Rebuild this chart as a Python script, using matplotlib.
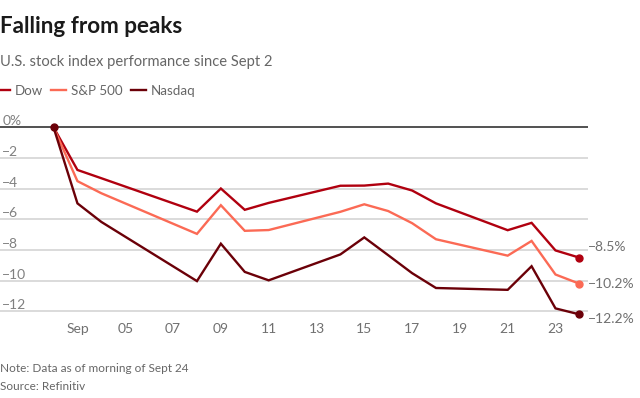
import matplotlib
matplotlib.use("Agg")
import matplotlib.pyplot as plt
import matplotlib.dates as mdates
import matplotlib.transforms as mtransforms
import pandas as pd

plt.rcParams['font.family'] = ['Lato', 'DejaVu Sans']

dates = ["2020-09-02", "2020-09-03", "2020-09-04", "2020-09-08", "2020-09-09",
         "2020-09-10", "2020-09-11", "2020-09-14", "2020-09-15", "2020-09-16",
         "2020-09-17", "2020-09-18", "2020-09-21", "2020-09-22", "2020-09-23",
         "2020-09-24"]
dow = [0, -2.78, -3.32, -5.5, -3.99, -5.38, -4.93, -3.81, -3.8, -3.67,
       -4.12, -4.96, -6.71, -6.23, -8.03, -8.5]
sp500 = [0, -3.51, -4.3, -6.95, -5.08, -6.75, -6.7, -5.51, -5.02, -5.46,
         -6.25, -7.3, -8.37, -7.41, -9.6, -10.2]
nasdaq = [0, -4.96, -6.17, -10.03, -7.59, -9.43, -9.98, -8.29, -7.18, -8.34,
          -9.51, -10.48, -10.6, -9.06, -11.81, -12.2]
series_names = ["Dow", "S&P 500", "Nasdaq"]
end_labels = ["\u22128.5%", "\u221210.2%", "\u221212.2%"]
ytick_vals = [0, -2, -4, -6, -8, -10, -12]
ytick_labels = ["0%", "\u22122", "\u22124", "\u22126", "\u22128", "\u221210", "\u221212"]
xtick_dates = ["2020-09-03", "2020-09-05", "2020-09-07", "2020-09-09", "2020-09-11",
               "2020-09-13", "2020-09-15", "2020-09-17", "2020-09-19", "2020-09-21",
               "2020-09-23"]
xtick_labels = ["Sep", "05", "07", "09", "11", "13", "15", "17", "19", "21", "23"]

colors = ["#b0000f", "#fb6a55", "#6b0008"]
W, H = 640, 398
fig = plt.figure(figsize=(W / 100, H / 100), dpi=100)
ax = fig.add_axes([0, (H - 320.5) / H, 588 / W, 208.5 / H])

x = pd.to_datetime(dates)
start = mdates.date2num(x[0])
ax.set_xlim(start - 2.24, start + 22.36)
ax.set_ylim(-12.6, 1.0)

for v in ytick_vals:
    if v == 0:
        ax.axhline(v, color="#333333", lw=1.2, zorder=2)
    else:
        ax.axhline(v, color="#d4d4d4", lw=1.2, zorder=1)

trans = mtransforms.blended_transform_factory(ax.transAxes, ax.transData)
for v, lab in zip(ytick_vals, ytick_labels):
    ax.text(0.004, v, lab, transform=trans, ha="left", va="bottom",
            fontsize=10, color="#808080")

all_series = [dow, sp500, nasdaq]
for vals, c, name in zip(all_series, colors, series_names):
    ax.plot(x, vals, color=c, lw=1.7, label=name, zorder=3, solid_joinstyle="miter")
    ax.plot(x[-1:], vals[-1:], "o", color=c, ms=5, zorder=4)
ax.plot(x[:1], nasdaq[:1], "o", color=colors[2], ms=5, zorder=5)

offsets = [8, 0, -3.5]
for vals, lab, off in zip(all_series, end_labels, offsets):
    ax.annotate(lab, xy=(1.0, vals[-1]), xycoords=trans,
                xytext=(0, off), textcoords="offset points",
                ha="left", va="center", fontsize=10, color="#707070",
                annotation_clip=False)

ax.set_xticks(pd.to_datetime(xtick_dates))
ax.set_xticklabels(xtick_labels)
ax.tick_params(axis="x", length=0, pad=2, labelsize=10, labelcolor="#707070")
ax.set_yticks([])
for s in ax.spines.values():
    s.set_visible(False)
ax.patch.set_alpha(0)

fig.text(0.0, 1 - 33 / H, "Falling from peaks", fontsize=16.2, fontweight="bold",
         color="#1a1a1a", ha="left", va="baseline")
fig.text(0.0, 1 - 66 / H, "U.S. stock index performance since Sept 2", fontsize=10.6,
         color="#666666", ha="left", va="baseline")

handles, labels = ax.get_legend_handles_labels()
fig.legend(handles, labels, loc="center left", bbox_to_anchor=(-0.008, 1 - 91 / H),
           ncol=3, frameon=False, fontsize=9.6, handlelength=1.15,
           handletextpad=0.35, columnspacing=0.6, borderaxespad=0, borderpad=0,
           labelcolor="#666666")

fig.text(0.0, 1 - 372.5 / H, "Note: Data as of morning of Sept 24", fontsize=8.5,
         color="#666666", ha="left", va="baseline")
fig.text(0.0, 1 - 390 / H, "Source: Refinitiv", fontsize=8.5,
         color="#666666", ha="left", va="baseline")

fig.savefig("out.png", dpi=100)
